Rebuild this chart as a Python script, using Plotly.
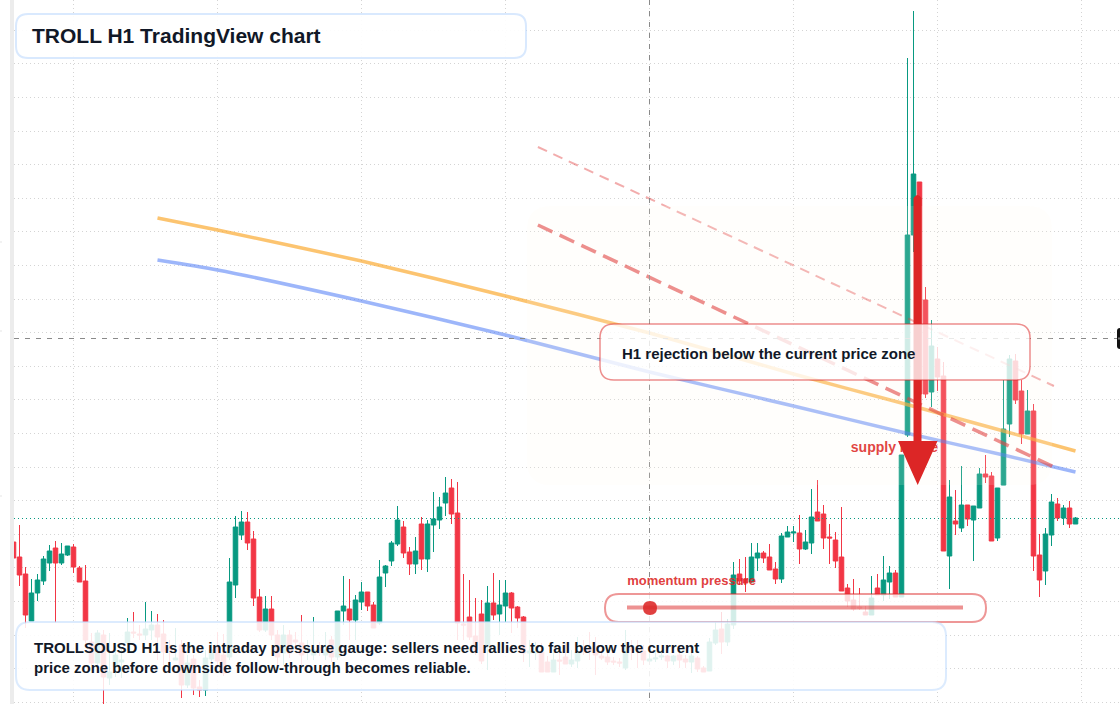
import plotly.graph_objects as go

# hourly bars (price axis in chart units)
opens = [162,147,130,83,111,123,141,156,141,149,157,136,123,62,41,69,26,37,42,61,72,70,69,74,79,70,56,44,59,19,45,17,14,45,57,49,47,119,169,182,165,107,74,95,69,51,69,64,61,52,49,56,49,64,47,93,95,84,102,112,99,81,131,143,160,177,152,140,180,145,179,184,201,216,191,80,87,68,90,59,101,90,98,111,97,87,51,51,52,42,32,44,47,40,43,56,56,52,48,47,43,42,36,56,56,53,43,45,47,48,43,49,45,42,46,36,33,61,75,62,79,130,125,122,146,151,147,135,125,167,171,171,155,161,192,190,167,164,147,116,104,97,92,89,116,109,122,131,107,269,469,522,404,312,345,328,148,183,176,199,184,196,230,228,166,219,280,343,313,270,293,149,133,169,200,186,196,180]
highs = [164,179,137,125,130,148,159,163,161,158,160,138,139,71,74,74,71,57,57,86,92,79,102,93,90,84,64,76,64,49,49,24,54,62,72,70,146,188,193,192,173,115,108,108,74,79,74,72,89,64,87,62,72,68,93,128,125,109,122,112,102,144,139,163,198,183,157,167,187,184,212,207,227,225,222,130,124,106,104,118,131,124,124,112,98,88,64,62,61,48,52,54,61,54,67,64,72,67,54,52,47,46,74,64,64,59,56,54,52,49,49,51,49,52,48,38,66,82,92,85,142,145,147,161,161,153,160,142,171,178,178,189,174,215,224,199,180,172,197,120,125,116,98,128,130,148,138,134,249,646,693,522,417,384,357,342,224,214,238,199,198,236,249,232,216,324,349,350,324,314,300,170,176,210,206,199,203,187]
lows = [140,118,76,83,103,119,133,81,139,148,131,122,59,39,39,0,19,27,26,54,66,64,64,64,44,39,39,44,6,16,9,7,8,39,36,28,44,106,164,154,98,72,72,64,39,39,46,54,39,44,44,48,44,42,44,79,64,64,94,93,76,79,117,138,158,146,129,130,134,132,152,175,188,180,64,64,64,49,40,34,84,69,82,71,76,42,37,44,32,32,32,29,40,37,36,49,44,29,44,39,39,37,34,44,36,39,41,42,44,36,39,36,36,31,32,32,33,59,50,58,75,119,112,121,133,141,134,120,121,167,162,140,154,150,183,155,140,136,113,97,93,94,89,89,109,103,105,107,107,267,452,294,306,297,313,153,115,169,172,178,143,196,221,163,163,219,267,300,260,270,133,107,119,158,183,179,176,180]
closes = [146,129,89,111,124,145,153,141,150,158,137,122,64,41,71,27,32,49,44,72,71,69,75,79,67,52,54,46,19,41,16,14,46,54,43,31,122,177,182,161,106,74,95,69,47,69,51,62,49,56,54,54,54,47,93,98,84,104,112,98,76,127,138,161,184,151,140,153,145,180,185,197,211,190,81,79,67,54,43,101,89,99,111,96,86,51,53,52,32,32,44,43,40,44,52,52,52,49,46,42,42,41,57,54,54,44,45,46,48,43,48,44,42,48,35,32,62,74,62,80,129,123,121,147,151,146,134,125,168,172,172,155,162,187,183,166,166,143,113,103,95,96,89,106,109,124,131,107,249,469,530,310,310,358,327,153,207,180,199,185,198,230,227,163,216,275,345,304,270,293,148,124,170,202,186,196,180,186]
bar_index = list(range(len(opens)))

# moving averages and trend lines
ma_index = [24, 34, 58, 82, 106, 130, 148, 165, 177]
orange_ma = [486, 474, 443, 408, 371, 330, 301, 273, 253]
blue_ma = [444, 434, 403, 369, 332, 298, 272, 249, 232]
trend_index = [87.4, 173.4]
upper_trend = [557, 318]
lower_trend = [479, 237]

W, H = 1120, 704
GREEN = "#089981"
RED = "#F23645"
INK = "#111827"
BAR0 = 13.5  # page x of bar 0, bars are 6px apart


def rounded(x0, y0, x1, y1, r):
    # rounded box in page pixels -> paper coords
    px = lambda v: v / W
    py = lambda v: 1 - v / H
    return (f"M{px(x0+r)},{py(y0)} L{px(x1-r)},{py(y0)} Q{px(x1)},{py(y0)} {px(x1)},{py(y0+r)} "
            f"L{px(x1)},{py(y1-r)} Q{px(x1)},{py(y1)} {px(x1-r)},{py(y1)} L{px(x0+r)},{py(y1)} "
            f"Q{px(x0)},{py(y1)} {px(x0)},{py(y1-r)} L{px(x0)},{py(y0+r)} Q{px(x0)},{py(y0)} {px(x0+r)},{py(y0)} Z")


def box(x0, y0, x1, y1, r, fill, line="rgba(0,0,0,0)", width=0):
    return dict(type="path", path=rounded(x0, y0, x1, y1, r), xref="paper", yref="paper", layer="above",
                fillcolor=fill, line=dict(color=line, width=width))


def hline(x0, y0, x1, y1, color, width, dash="solid"):
    return dict(type="line", xref="paper", yref="paper", layer="above",
                x0=x0 / W, x1=x1 / W, y0=1 - y0 / H, y1=1 - y1 / H,
                line=dict(color=color, width=width, dash=dash))


fig = go.Figure()
fig.add_trace(go.Candlestick(
    x=bar_index, open=opens, high=highs, low=lows, close=closes,
    increasing=dict(line=dict(color=GREEN, width=1), fillcolor=GREEN),
    decreasing=dict(line=dict(color=RED, width=1), fillcolor=RED),
    hoverinfo="skip",
))
fig.add_trace(go.Scatter(x=ma_index, y=orange_ma, mode="lines", hoverinfo="skip",
                         line=dict(color="rgba(251,165,36,0.65)", width=3.5, shape="spline", smoothing=0.6)))
fig.add_trace(go.Scatter(x=ma_index, y=blue_ma, mode="lines", hoverinfo="skip",
                         line=dict(color="rgba(59,110,246,0.5)", width=3.5, shape="spline", smoothing=0.6)))
fig.add_trace(go.Scatter(x=trend_index, y=upper_trend, mode="lines", hoverinfo="skip",
                         line=dict(color="rgba(220,38,38,0.38)", width=2, dash="10px,7px")))
fig.add_trace(go.Scatter(x=trend_index, y=lower_trend, mode="lines", hoverinfo="skip",
                         line=dict(color="rgba(220,38,38,0.6)", width=3.5, dash="16px,8px")))
# these two sit in the plot so the boxes and the arrow can cover them
fig.add_trace(go.Scatter(x=[139.55], y=[256], mode="text", text=["supply range"], textposition="middle right",
                         textfont=dict(family="Liberation Sans", size=14, color="#DC2626", weight="bold"),
                         hoverinfo="skip"))
fig.add_trace(go.Scatter(x=[102.3], y=[122], mode="text", text=["momentum pressure"], textposition="middle right",
                         textfont=dict(family="Liberation Sans", size=13, color="rgba(220,38,38,0.9)", weight="bold"),
                         hoverinfo="skip"))

arrow = (f"M{913.5/W},{1-198/H} Q{917.5/W},{1-192/H} {921.5/W},{1-198/H} L{921.5/W},{1-441/H} "
         f"L{937.5/W},{1-441/H} L{917.7/W},{1-485/H} L{898/W},{1-441/H} L{913.5/W},{1-441/H} Z")

fig.update_layout(
    width=W, height=H, margin=dict(l=0, r=0, t=0, b=0),
    paper_bgcolor="white", plot_bgcolor="white", showlegend=False, boxgap=0.05, boxgroupgap=0.2,
    xaxis=dict(domain=[14 / W, 1], range=[(14 - BAR0) / 6, (W - BAR0) / 6], rangeslider=dict(visible=False),
               tick0=10, dtick=24, showgrid=True, gridcolor="#d4d4d4", griddash="1px,3px", gridwidth=1,
               showticklabels=False, zeroline=False, showline=False, ticks=""),
    yaxis=dict(range=[0, H], tick0=1.7, dtick=33.6, showgrid=True, gridcolor="#d4d4d4", griddash="1px,3px",
               gridwidth=1, showticklabels=False, zeroline=False, showline=False, ticks=""),
    shapes=[
        hline(14, 518.5, W, 518.5, GREEN, 1, "1px,3px"),
        hline(14, 338.5, 1117, 338.5, "#8a8a8a", 1, "5px,6px"),
        hline(649.5, 0, 649.5, H, "#8a8a8a", 1, "5px,6px"),
        box(527, 206, 1052, 485, 24, "rgba(255,245,235,0.15)"),
        dict(type="path", path=arrow, xref="paper", yref="paper", layer="above", fillcolor="#DC2626",
             line=dict(width=0)),
        box(600, 324, 1030, 380, 14, "rgba(255,255,255,0.78)", "rgba(220,38,38,0.52)", 1.5),
        box(605, 594, 986, 622, 14, "rgba(255,255,255,0.82)", "rgba(220,38,38,0.48)", 2),
        hline(627, 607.5, 963, 607.5, "rgba(220,38,38,0.5)", 4),
        box(643, 601, 657, 615, 7, "rgba(220,38,38,0.88)"),
        box(16, 14, 526, 58, 12, "rgba(255,255,255,0.92)", "rgba(191,219,254,0.6)", 2),
        box(16, 622, 946, 690, 14, "rgba(255,255,255,0.875)", "rgba(191,219,254,0.55)", 2),
        dict(type="rect", xref="paper", yref="paper", layer="above", x0=10 / W, x1=14 / W, y0=0, y1=1,
             fillcolor="#ececec", line=dict(width=0)),
        hline(0, 242, 2, 242, "#e5e5e5", 1),
        hline(0, 331, 2, 331, "#e5e5e5", 1),
        hline(0, 496, 2, 496, "#e5e5e5", 1),
        box(1117, 328, 1128, 349, 3, "#111111"),
        hline(1118, 338.5, 1120, 338.5, "#777777", 2),
    ],
    annotations=[
        dict(text="<b>TROLL H1 TradingView chart</b>", x=30 / W, y=1 - 35.5 / H, xref="paper", yref="paper",
             xanchor="left", yanchor="middle", showarrow=False,
             font=dict(family="Liberation Sans", size=21, color=INK)),
        dict(text="<b>H1 rejection below the current price zone</b>", x=620 / W, y=1 - 353 / H, xref="paper",
             yref="paper", xanchor="left", yanchor="middle", showarrow=False,
             font=dict(family="Liberation Sans", size=15, color=INK)),
        dict(text="<b>TROLLSOUSD H1 is the intraday pressure gauge: sellers need rallies to fail below the current</b>",
             x=32 / W, y=1 - 647 / H, xref="paper", yref="paper", xanchor="left", yanchor="middle", showarrow=False,
             font=dict(family="Liberation Sans", size=15, color=INK)),
        dict(text="<b>price zone before downside follow-through becomes reliable.</b>",
             x=32 / W, y=1 - 667 / H, xref="paper", yref="paper", xanchor="left", yanchor="middle", showarrow=False,
             font=dict(family="Liberation Sans", size=15, color=INK)),
    ],
)

fig.write_html("out.html", post_script="document.body.style.margin='0';", config=dict(displayModeBar=False))
